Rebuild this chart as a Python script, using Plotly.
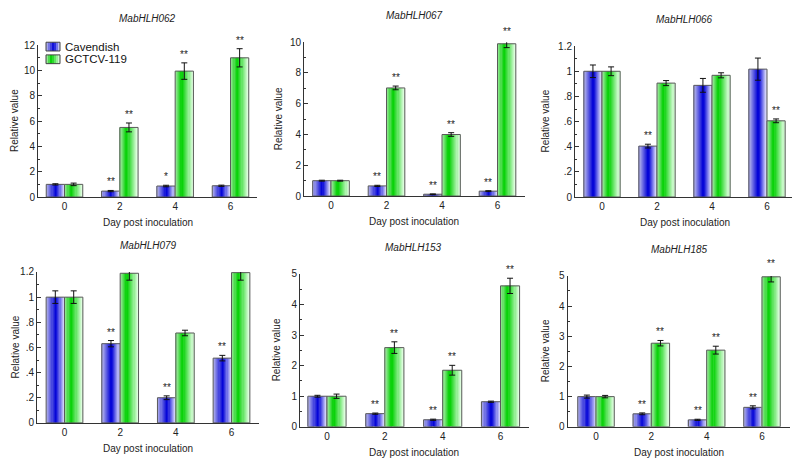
import plotly.graph_objects as go

# ---------------- data ----------------
categories = [0, 2, 4, 6]
series_names = ["Cavendish", "GCTCV-119"]
gene_titles = ["MabHLH062", "MabHLH067", "MabHLH066", "MabHLH079", "MabHLH153", "MabHLH185"]

cav_062 = [1.0, 0.47, 0.87, 0.89]
cav_062_err = [0.05, 0.05, 0.06, 0.05]
gct_062 = [1.0, 5.5, 9.95, 11.0]
gct_062_err = [0.1, 0.35, 0.65, 0.72]
cav_062_sig = ["", "**", "*", ""]
gct_062_sig = ["", "**", "**", "**"]

cav_067 = [1.0, 0.66, 0.12, 0.32]
cav_067_err = [0.03, 0.04, 0.02, 0.03]
gct_067 = [1.0, 7.03, 4.0, 9.9]
gct_067_err = [0.03, 0.12, 0.12, 0.25]
cav_067_sig = ["", "**", "**", "**"]
gct_067_sig = ["", "**", "**", "**"]

cav_066 = [1.0, 0.405, 0.888, 1.017]
cav_066_err = [0.05, 0.015, 0.055, 0.088]
gct_066 = [1.0, 0.906, 0.968, 0.606]
gct_066_err = [0.035, 0.02, 0.02, 0.015]
cav_066_sig = ["", "**", "", ""]
gct_066_sig = ["", "", "", "**"]

cav_079 = [1.0, 0.63, 0.20, 0.515]
cav_079_err = [0.05, 0.025, 0.015, 0.022]
gct_079 = [1.0, 1.19, 0.715, 1.195]
gct_079_err = [0.05, 0.055, 0.022, 0.06]
cav_079_sig = ["", "**", "**", "**"]
gct_079_sig = ["", "", "", ""]

cav_153 = [1.0, 0.43, 0.23, 0.82]
cav_153_err = [0.03, 0.02, 0.02, 0.02]
gct_153 = [1.0, 2.59, 1.85, 4.61]
gct_153_err = [0.07, 0.19, 0.16, 0.25]
cav_153_sig = ["", "**", "**", ""]
gct_153_sig = ["", "**", "**", "**"]

cav_185 = [1.0, 0.43, 0.23, 0.645]
cav_185_err = [0.05, 0.03, 0.02, 0.05]
gct_185 = [1.0, 2.77, 2.54, 4.97]
gct_185_err = [0.04, 0.09, 0.13, 0.17]
cav_185_sig = ["", "**", "**", "**"]
gct_185_sig = ["", "**", "**", "**"]

ytick_vals_062 = [0, 2, 4, 6, 8, 10, 12]
ytick_text_062 = ["0", "2", "4", "6", "8", "10", "12"]
ytick_vals_067 = [0, 2, 4, 6, 8, 10]
ytick_text_067 = ["0", "2", "4", "6", "8", "10"]
ytick_vals_066 = [0, 0.2, 0.4, 0.6, 0.8, 1.0, 1.2]
ytick_text_066 = ["0", ".2", ".4", ".6", ".8", "1", "1.2"]
ytick_vals_079 = [0, 0.2, 0.4, 0.6, 0.8, 1.0, 1.2]
ytick_text_079 = ["0", ".2", ".4", ".6", ".8", "1", "1.2"]
ytick_vals_153 = [0, 1, 2, 3, 4, 5]
ytick_text_153 = ["0", "1", "2", "3", "4", "5"]
ytick_vals_185 = [0, 1, 2, 3, 4, 5]
ytick_text_185 = ["0", "1", "2", "3", "4", "5"]

x_title = "Day post inoculation"
y_title = "Relative value"

panels_data = [
    (cav_062, cav_062_err, gct_062, gct_062_err, cav_062_sig, gct_062_sig, ytick_vals_062, ytick_text_062),
    (cav_067, cav_067_err, gct_067, gct_067_err, cav_067_sig, gct_067_sig, ytick_vals_067, ytick_text_067),
    (cav_066, cav_066_err, gct_066, gct_066_err, cav_066_sig, gct_066_sig, ytick_vals_066, ytick_text_066),
    (cav_079, cav_079_err, gct_079, gct_079_err, cav_079_sig, gct_079_sig, ytick_vals_079, ytick_text_079),
    (cav_153, cav_153_err, gct_153, gct_153_err, cav_153_sig, gct_153_sig, ytick_vals_153, ytick_text_153),
    (cav_185, cav_185_err, gct_185, gct_185_err, cav_185_sig, gct_185_sig, ytick_vals_185, ytick_text_185),
]

# ---------------- style / geometry ----------------
# the page has an 8px body margin, so the figure starts 8px in from the window corner
OFF = 8
W, H = 784, 454
FONT = "Liberation Sans, Arial, sans-serif"


def px(x):
    return (x - OFF) / W


def py(y):
    return 1 - (y - OFF) / H


# window-pixel geometry per panel:
# axis-left, centre of first category, centre of last category, axis-right,
# y of 0, y of max, minor dtick, x of y-title
geom = [
    (38, 64.5, 230.5, 257, 196, 40, 1, 14),
    (304, 331, 497.5, 525, 195, 37, 1, 278),
    (575, 602, 767, 791.5, 196, 41, 0.1, 546),
    (37, 64.5, 231.5, 259, 428, 273, 0.1, 15),
    (300, 327, 500.5, 529, 432, 275, 0.5, 276),
    (567.5, 596, 762, 790, 432, 277, 0.5, 545),
]
BAR_W = 0.66
N_STRIPES = 16

blue_stops = [(0.0, (190, 190, 236)), (0.55, (0, 0, 215)), (1.0, (222, 222, 252))]
green_stops = [(0.0, (178, 236, 178)), (0.38, (0, 208, 0)), (1.0, (232, 255, 232))]


def grad(stops, t):
    for (t0, c0), (t1, c1) in zip(stops[:-1], stops[1:]):
        if t0 <= t <= t1:
            f = (t - t0) / (t1 - t0) if t1 > t0 else 0
            c = [round(a + (b - a) * f) for a, b in zip(c0, c1)]
            return "rgb(%d,%d,%d)" % tuple(c)
    return "rgb(%d,%d,%d)" % stops[-1][1]


fig = go.Figure()
layout_axes = {}
annotations = []
shapes = []

for i, (pdat, g) in enumerate(zip(panels_data, geom)):
    cav, cav_e, gct, gct_e, cav_s, gct_s, tv, tt = pdat
    xl, c0, c6, xr, yb, yt, mdt, ytx = g
    n = i + 1
    xa = "x" if n == 1 else "x%d" % n
    ya = "y" if n == 1 else "y%d" % n
    xkey = "xaxis" if n == 1 else "xaxis%d" % n
    ykey = "yaxis" if n == 1 else "yaxis%d" % n
    ymax = tv[-1]

    for vals, errs, sig, stops, base in (
        (cav, cav_e, cav_s, blue_stops, -BAR_W),
        (gct, gct_e, gct_s, green_stops, 0.0),
    ):
        sw = BAR_W / N_STRIPES
        for k in range(N_STRIPES):
            t = (k + 0.5) / N_STRIPES
            fig.add_trace(go.Bar(
                x=categories, y=vals, xaxis=xa, yaxis=ya,
                offset=base + k * sw, width=sw * (1.25 if k < N_STRIPES - 1 else 1.0),
                marker=dict(color=grad(stops, t), line=dict(width=0)),
                showlegend=False, hoverinfo="skip",
            ))
        fig.add_trace(go.Bar(
            x=categories, y=vals, xaxis=xa, yaxis=ya,
            offset=base, width=BAR_W, cliponaxis=False,
            marker=dict(color="rgba(0,0,0,0)", line=dict(color="#5a5a5a", width=1)),
            error_y=dict(type="data", array=errs, visible=True, color="#111", thickness=1, width=3),
            showlegend=False,
        ))
        # significance marks above the error bars (y given as a fraction of the axis span,
        # so marks that sit above the axis top are still drawn)
        for c, v, e, s in zip(categories, vals, errs, sig):
            if s:
                annotations.append(dict(
                    text=s, x=c + base + BAR_W / 2, y=(v + e) / ymax,
                    xref=xa, yref="%s domain" % ya,
                    showarrow=False, xanchor="center", yanchor="bottom", yshift=1,
                    font=dict(family=FONT, size=10, color="#222"),
                ))

    upp = (categories[-1] - categories[0]) / (c6 - c0)
    rng = [categories[0] - (c0 - xl) * upp, categories[-1] + (xr - c6) * upp]
    layout_axes[xkey] = dict(
        domain=[px(xl), min(px(xr), 1.0)], range=rng, anchor=ya,
        tickvals=categories, ticktext=[str(c) for c in categories],
        showline=True, linecolor="#333", linewidth=1, ticks="",
        showgrid=False, zeroline=False,
        tickfont=dict(family=FONT, size=10, color="#222"),
    )
    layout_axes[ykey] = dict(
        domain=[py(yb), py(yt)], range=[0, ymax], anchor=xa,
        tickvals=tv, ticktext=tt,
        showline=True, linecolor="#333", linewidth=1,
        ticks="inside", ticklen=4, tickcolor="#333",
        minor=dict(ticks="inside", ticklen=2, dtick=mdt, tickcolor="#333"),
        showgrid=False, zeroline=False,
        tickfont=dict(family=FONT, size=10, color="#222"),
    )
    cx = (c0 + c6) / 2
    title_y = py(yt - 27)
    annotations.append(dict(
        text="<i>%s</i>" % gene_titles[i], x=px(cx), y=min(title_y, 1.0),
        xref="paper", yref="paper", showarrow=False, xanchor="center",
        yanchor="top" if title_y >= 1.0 else "middle", borderpad=0,
        font=dict(family=FONT, size=10, color="#222"),
    ))
    annotations.append(dict(
        text=x_title, x=px(cx), y=py(yb + 26),
        xref="paper", yref="paper", showarrow=False, xanchor="center", yanchor="middle",
        font=dict(family=FONT, size=10, color="#222"),
    ))
    annotations.append(dict(
        text=y_title, x=px(ytx), y=py((yb + yt) / 2),
        xref="paper", yref="paper", showarrow=False, xanchor="center", yanchor="middle",
        textangle=-90, font=dict(family=FONT, size=10, color="#222"),
    ))

# manual legend in the first panel
leg_rows = [(series_names[0], blue_stops, 37, 46), (series_names[1], green_stops, 50, 59)]
lx0, lx1 = 46, 60
for name, stops, y0, y1 in leg_rows:
    ns = 7
    for k in range(ns):
        t = (k + 0.5) / ns
        a = lx0 + (lx1 - lx0) * k / ns
        b = lx0 + (lx1 - lx0) * (k + 1) / ns
        shapes.append(dict(type="rect", xref="paper", yref="paper",
                           x0=px(a), x1=px(b), y0=py(y1), y1=py(y0),
                           fillcolor=grad(stops, t), line=dict(width=0)))
    shapes.append(dict(type="rect", xref="paper", yref="paper",
                       x0=px(lx0), x1=px(lx1), y0=py(y1), y1=py(y0),
                       fillcolor="rgba(0,0,0,0)", line=dict(color="#444", width=1)))
    annotations.append(dict(text=name, x=px(lx1 + 3), y=py((y0 + y1) / 2),
                            xref="paper", yref="paper", showarrow=False,
                            xanchor="left", yanchor="middle",
                            font=dict(family=FONT, size=11.5, color="#111")))

fig.update_layout(
    width=W, height=H, margin=dict(l=0, r=0, t=0, b=0),
    paper_bgcolor="white", plot_bgcolor="white",
    barmode="overlay", showlegend=False,
    annotations=annotations, shapes=shapes,
    font=dict(family=FONT),
    **layout_axes,
)

fig.write_html("out.html")
